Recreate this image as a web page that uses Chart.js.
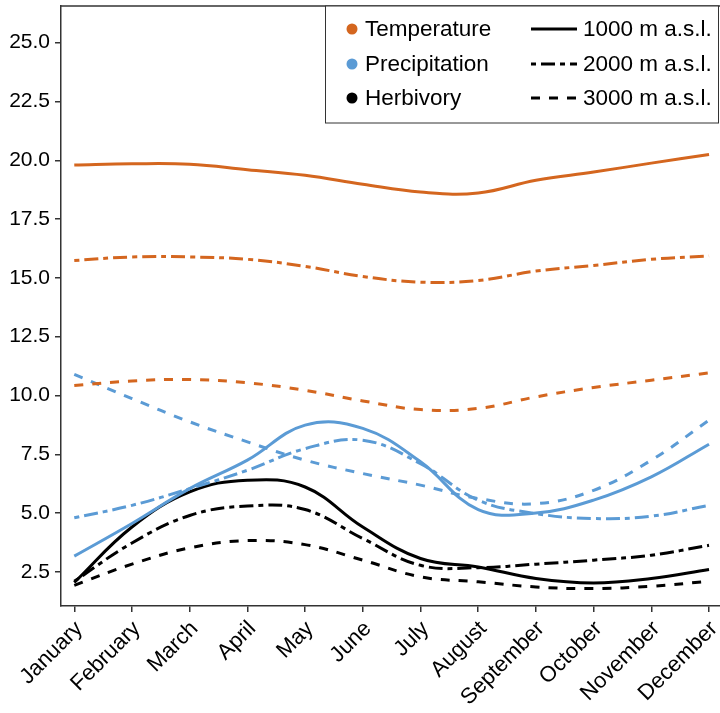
<!DOCTYPE html>
<html>
<head>
<meta charset="utf-8">
<script src="https://cdn.jsdelivr.net/npm/chart.js@4.4.1/dist/chart.umd.min.js"></script>
<style>
    body { margin: 0; background: #fff; }
    #wrap { width: 720px; height: 713px; }
</style>
</head>
<body>
<div id="wrap"><canvas id="grafico" width="720" height="713"></canvas></div>
<script>
const meses = ["January", "February", "March", "April", "May", "June",
    "July", "August", "September", "October", "November", "December"];
const ticksY = [2.5, 5, 7.5, 10, 12.5, 15, 17.5, 20, 22.5, 25];

// Temperature
const temp1000 = [19.8, 19.85, 19.83, 19.6, 19.36, 18.98, 18.65, 18.61, 19.15, 19.5, 19.88, 20.25];
const temp2000 = [15.74, 15.89, 15.89, 15.79, 15.49, 15.06, 14.82, 14.89, 15.29, 15.53, 15.79, 15.93];
const temp3000 = [10.42, 10.62, 10.68, 10.54, 10.22, 9.77, 9.4, 9.45, 9.94, 10.34, 10.65, 10.96];

// Precipitation
const prec1000 = [3.17, 4.56, 6.04, 7.25, 8.74, 8.6, 7.18, 5.15, 5.0, 5.55, 6.54, 7.93];
const prec2000 = [4.8, 5.33, 6.04, 6.82, 7.74, 8.1, 7.1, 5.55, 4.98, 4.77, 4.87, 5.33];
const prec3000 = [10.9, 9.87, 8.88, 8.03, 7.25, 6.68, 6.19, 5.62, 5.4, 5.97, 7.25, 8.95];

// Herbivory
const herb1000 = [2.05, 4.41, 5.9, 6.4, 6.11, 4.41, 3.07, 2.71, 2.22, 2.03, 2.22, 2.6];
const herb2000 = [2.1, 3.73, 4.9, 5.3, 5.15, 3.92, 2.78, 2.68, 2.83, 3.0, 3.21, 3.63];
const herb3000 = [1.93, 2.83, 3.52, 3.83, 3.66, 3.0, 2.29, 2.08, 1.86, 1.79, 1.89, 2.1];

const variables = ["Temperature", "Precipitation", "Herbivory"];
const altitudes = ["1000 m a.s.l.", "2000 m a.s.l.", "3000 m a.s.l."];

const colores = ["#D4661F", "#5B9BD5", "#000000"];
const guiones = [[], [5, 5, 14, 5], [9, 9]];
const fuente = "'Liberation Sans', Arial, sans-serif";

function serie(valores, color, guion) {
    return {
        data: valores.map((v, i) => ({ x: i, y: v })),
        borderColor: color,
        borderWidth: 3,
        borderDash: guion,
        pointRadius: 0,
        tension: 0.4,
        fill: false
    };
}

const series = [
    [temp1000, temp2000, temp3000],
    [prec1000, prec2000, prec3000],
    [herb1000, herb2000, herb3000]
];
let datasets = [];
series.forEach((grupo, v) => {
    grupo.forEach((valores, a) => {
        datasets.push(serie(valores, colores[v], guiones[a]));
    });
});

/*******************************************************************************/
// Leyenda y borde superior

const leyenda = {
    id: "leyenda",
    afterDraw(chart) {
        const ctx = chart.ctx;
        const area = chart.chartArea;
        ctx.save();
        ctx.strokeStyle = "#333";
        ctx.lineWidth = 1.5;
        ctx.beginPath();
        ctx.moveTo(area.left, area.top);
        ctx.lineTo(720, area.top);
        ctx.stroke();

        ctx.fillStyle = "#fff";
        ctx.fillRect(325, area.top, 393, 117);
        ctx.lineWidth = 1;
        ctx.strokeRect(325.5, area.top, 393, 117);

        const filas = [29, 64, 98];
        ctx.font = "22.5px " + fuente;
        ctx.textBaseline = "middle";
        ctx.textAlign = "left";
        filas.forEach((y, i) => {
            ctx.fillStyle = colores[i];
            ctx.beginPath();
            ctx.arc(352, y, 5.5, 0, Math.PI * 2);
            ctx.fill();
            ctx.fillStyle = "#000";
            ctx.fillText(variables[i], 365, y + 1);

            ctx.strokeStyle = "#000";
            ctx.lineWidth = 2.8;
            ctx.setLineDash(guiones[i]);
            ctx.beginPath();
            ctx.moveTo(531, y);
            ctx.lineTo(577, y);
            ctx.stroke();
            ctx.setLineDash([]);
            ctx.fillText(altitudes[i], 583, y + 1);
        });
        ctx.restore();
    }
};

/*******************************************************************************/
// Grafico

const ctx = document.getElementById("grafico").getContext("2d");
new Chart(ctx, {
    type: "line",
    data: { datasets: datasets },
    plugins: [leyenda],
    options: {
        responsive: false,
        animation: false,
        layout: { padding: { top: 6, right: 0, left: 0, bottom: 0 } },
        plugins: { legend: { display: false }, tooltip: { enabled: false } },
        scales: {
            x: {
                type: "linear",
                min: -0.23,
                max: 11.19,
                afterBuildTicks: (s) => { s.ticks = meses.map((m, i) => ({ value: i })); },
                afterFit: (s) => { s.height = 107; s.paddingLeft = 0; s.paddingRight = 0; },
                grid: { display: true, drawOnChartArea: false, drawTicks: true, tickLength: 6, color: "#333", lineWidth: 1.5 },
                border: { display: true, color: "#333", width: 1.5 },
                ticks: {
                    autoSkip: false,
                    maxRotation: 45,
                    minRotation: 45,
                    padding: 4,
                    labelOffset: 5,
                    color: "#000",
                    font: { family: fuente, size: 22 },
                    callback: (v) => meses[v]
                }
            },
            y: {
                min: 1.05,
                max: 26.56,
                afterBuildTicks: (s) => { s.ticks = ticksY.map((t) => ({ value: t })); },
                afterFit: (s) => { s.width = 61; s.paddingTop = 0; s.paddingBottom = 0; },
                grid: { display: true, drawOnChartArea: false, drawTicks: true, tickLength: 6, color: "#333", lineWidth: 1.5 },
                border: { display: true, color: "#333", width: 1.5 },
                ticks: {
                    padding: 5,
                    color: "#000",
                    font: { family: fuente, size: 21 },
                    callback: (v) => v.toFixed(1)
                }
            }
        }
    }
});
</script>
</body>
</html>
